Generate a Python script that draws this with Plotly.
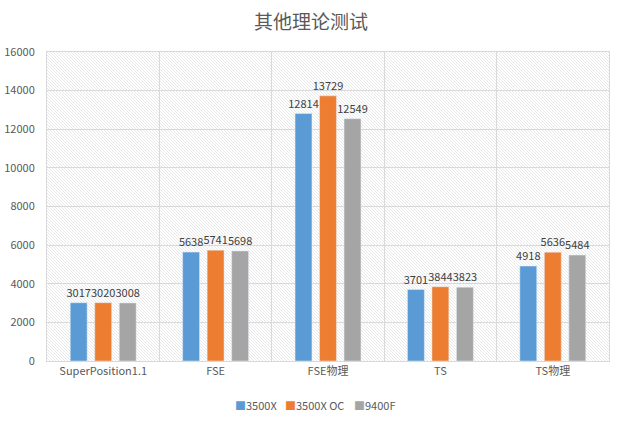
import base64
import plotly.graph_objects as go

categories = ["SuperPosition1.1", "FSE", "FSE物理", "TS", "TS物理"]
series_names = ["3500X", "3500X OC", "9400F"]
v_3500x = [3017, 5638, 12814, 3701, 4918]
v_3500x_oc = [3020, 5741, 13729, 3844, 5636]
v_9400f = [3008, 5698, 12549, 3823, 5484]
colors = ["#5B9BD5", "#ED7D31", "#A5A5A5"]
y_ticks = [0, 2000, 4000, 6000, 8000, 10000, 12000, 14000, 16000]

fig = go.Figure()
for name, vals, col in zip(series_names, [v_3500x, v_3500x_oc, v_9400f], colors):
    fig.add_trace(go.Bar(
        x=categories, y=vals, name=name, marker_color=col,
        text=[str(v) for v in vals], textposition="outside", constraintext="none",
        textfont=dict(size=11, color="#404040"), cliponaxis=False,
    ))

# diagonal hatch background (decoration)
W, H = 562, 309
lines = []
step = 3
for k in range(-H, W + H, step):
    lines.append(f'<line x1="{k}" y1="0" x2="{k+H}" y2="{H}" />')
svg = (f'<svg xmlns="http://www.w3.org/2000/svg" width="{W}" height="{H}" viewBox="0 0 {W} {H}" preserveAspectRatio="none">'
       f'<rect width="{W}" height="{H}" fill="white"/>'
       f'<g stroke="#e0e0e0" stroke-width="0.7">' + "".join(lines) + '</g></svg>')
uri = "data:image/svg+xml;base64," + base64.b64encode(svg.encode()).decode()
fig.add_layout_image(dict(source=uri, xref="paper", yref="paper", x=0, y=1,
                          sizex=1, sizey=1, sizing="stretch", layer="below",
                          xanchor="left", yanchor="top"))

# legend drawn as text annotations (compact like the reference)
legend_x = [0.331, 0.420, 0.543]
for name, col, lx in zip(series_names, colors, legend_x):
    fig.add_annotation(
        text=f"<span style='color:{col}'>■</span>{name}",
        xref="paper", yref="paper", x=lx, y=-0.142, xanchor="left", yanchor="middle",
        showarrow=False, font=dict(size=11, color="#595959"))

fig.update_layout(
    width=622, height=423,
    margin=dict(l=47, r=13, t=52, b=62),
    paper_bgcolor="white", plot_bgcolor="rgba(0,0,0,0)",
    font=dict(family="Noto Sans CJK SC, Noto Sans, sans-serif", color="#595959"),
    title=dict(text="其他理论测试", x=0.5, xanchor="center", y=0.948, yanchor="middle",
               font=dict(size=19, color="#595959")),
    barmode="group", bargap=0.346, bargroupgap=0.31,
    showlegend=False,
)
fig.update_xaxes(showgrid=True, gridcolor="#d9d9d9", tickson="boundaries", ticks="",
                 showline=True, linecolor="#d9d9d9", mirror=True, automargin=False,
                 tickfont=dict(size=11, color="#595959"))
fig.update_yaxes(range=[0, 16000], tickvals=y_ticks, ticktext=[str(t) for t in y_ticks],
                 showgrid=True, gridcolor="#d9d9d9", automargin=False,
                 showline=True, linecolor="#d9d9d9", mirror=True, zeroline=False,
                 tickfont=dict(size=11, color="#595959"), ticks="", ticklabelstandoff=9)
fig.write_html("out.html", config={"displayModeBar": False},
               post_script="document.body.style.margin='0';")
